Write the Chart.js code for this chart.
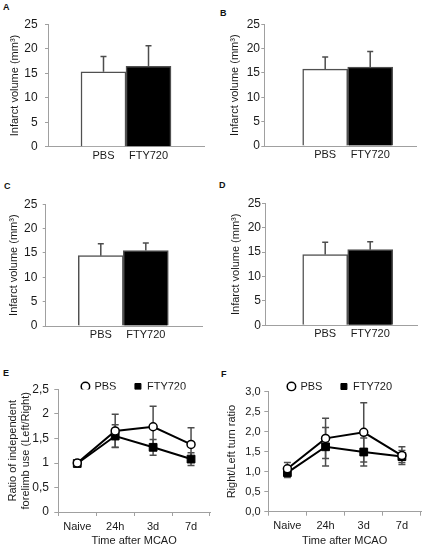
<!DOCTYPE html>
<html>
<head>
<meta charset="utf-8">
<title>Infarct volume and behaviour</title>
<script src="https://cdn.jsdelivr.net/npm/chart.js@4.4.1/dist/chart.umd.min.js"></script>
<style>
  html, body { margin: 0; padding: 0; background: #fff; }
  body { position: relative; width: 430px; height: 548px; overflow: hidden; font-family: "Liberation Sans", Arial, sans-serif; }
  canvas { position: absolute; }
  .tag { position: absolute; font-weight: bold; font-size: 9px; color: #111; }
</style>
</head>
<body>
<div class="tag" style="left:3px;top:2px">A</div>
<div class="tag" style="left:220px;top:8px">B</div>
<div class="tag" style="left:4px;top:181px">C</div>
<div class="tag" style="left:219px;top:180px">D</div>
<div class="tag" style="left:3px;top:368px">E</div>
<div class="tag" style="left:221px;top:369px">F</div>

<canvas id="chartA" width="215" height="175" style="left:0;top:0"></canvas>
<canvas id="chartB" width="215" height="175" style="left:215px;top:0"></canvas>
<canvas id="chartC" width="215" height="175" style="left:0;top:178px"></canvas>
<canvas id="chartD" width="215" height="175" style="left:215px;top:178px"></canvas>
<canvas id="chartE" width="268" height="190" style="left:0;top:358px"></canvas>
<canvas id="chartF" width="250" height="190" style="left:215px;top:358px"></canvas>

<script>
// groups on the bar panels
const groups = ['PBS', 'FTY720'];
const barFills = ['#ffffff', '#000000'];

// infarct volume (mm3), mean and upper error
const volumeA = [15.3, 16.4];
const errorA = [3.1, 4.2];
const volumeB = [15.8, 16.2];
const errorB = [2.5, 3.2];
const volumeC = [14.45, 15.5];
const errorC = [2.45, 1.55];
const volumeD = [14.5, 15.5];
const errorD = [2.5, 1.6];

// behaviour after MCAO
const timepoints = ['Naive', '24h', '3d', '7d'];
const forelimbPBS = [1.0, 1.655, 1.74, 1.38];
const forelimbPBSErr = [0.04, 0.34, 0.42, 0.34];
const forelimbFTY = [0.99, 1.55, 1.32, 1.08];
const forelimbFTYErr = [0.04, 0.23, 0.16, 0.13];
const turnPBS = [1.07, 1.83, 1.98, 1.40];
const turnPBSErr = [0.16, 0.5, 0.74, 0.22];
const turnFTY = [0.975, 1.62, 1.49, 1.375];
const turnFTYErr = [0.12, 0.48, 0.35, 0.15];

const axisGrey = '#a0a0a0';
const errorGrey = '#4d4d4d';

Chart.defaults.font.family = '"Liberation Sans", Arial, sans-serif';
Chart.defaults.font.size = 11;
Chart.defaults.color = '#1a1a1a';
Chart.defaults.animation = false;

// error bars, drawn from each dataset's "errors" list
const errorBarPlugin = {
    id: 'errorBars',
    beforeDatasetsDraw(chart, args, opts) {
        if (opts.behind) drawErrorBars(chart, opts);
    },
    afterDatasetsDraw(chart, args, opts) {
        if (!opts.behind) drawErrorBars(chart, opts);
    }
};

function drawErrorBars(chart, opts) {
    const ctx = chart.ctx;
    const yScale = chart.scales.y;
    const cap = opts.cap || 3;
    ctx.save();
    ctx.strokeStyle = errorGrey;
    ctx.lineWidth = 1.5;
    chart.data.datasets.forEach((dataset, i) => {
        if (!dataset.errors) return;
        const meta = chart.getDatasetMeta(i);
        meta.data.forEach((el, j) => {
            const value = meta.controller.getParsed(j).y;
            const err = dataset.errors[j];
            const top = yScale.getPixelForValue(value + err);
            const bottom = yScale.getPixelForValue(opts.plusOnly ? value : value - err);
            ctx.beginPath();
            ctx.moveTo(el.x, top);
            ctx.lineTo(el.x, bottom);
            ctx.moveTo(el.x - cap, top);
            ctx.lineTo(el.x + cap, top);
            if (!opts.plusOnly) {
                ctx.moveTo(el.x - cap, bottom);
                ctx.lineTo(el.x + cap, bottom);
            }
            ctx.stroke();
        });
    });
    ctx.restore();
}

function makeVolumeChart(id, values, errors, p) {
    const ctx = document.getElementById(id).getContext('2d');
    return new Chart(ctx, {
        type: 'bar',
        data: {
            datasets: [{
                label: 'Infarct volume',
                data: groups.map((g, i) => ({ x: i + 1, y: values[i] })),
                errors: errors,
                backgroundColor: barFills,
                borderColor: '#505050',
                borderWidth: 1.5,
                categoryPercentage: 1,
                barPercentage: 1
            }]
        },
        options: {
            responsive: false,
            layout: { padding: { top: p.top, right: p.right, left: 0, bottom: 0 } },
            plugins: {
                legend: { display: false },
                tooltip: { enabled: false },
                errorBars: { plusOnly: true, cap: 3 }
            },
            scales: {
                x: {
                    type: 'linear',
                    offset: false,
                    min: p.xMin,
                    max: p.xMax,
                    afterBuildTicks: (scale) => { scale.ticks = groups.map((g, i) => ({ value: i + 1 })); },
                    afterFit: (scale) => { scale.height = p.xHeight; },
                    ticks: { callback: (v) => groups[v - 1], padding: 2.5, maxRotation: 0, autoSkip: false },
                    grid: { display: false, drawTicks: false },
                    border: { color: axisGrey }
                },
                y: {
                    min: 0,
                    max: 25,
                    afterFit: (scale) => { scale.width = p.yWidth; },
                    ticks: { stepSize: 5, padding: p.tickPad, font: { size: 12 } },
                    grid: { drawOnChartArea: false, tickLength: 3, color: axisGrey },
                    border: { color: axisGrey },
                    title: { display: true, text: 'Infarct volume (mm³)', padding: { top: p.titlePad, bottom: 0 } }
                }
            }
        },
        plugins: [errorBarPlugin]
    });
}

function makeTimeChart(id, pbs, pbsErr, fty, ftyErr, p) {
    const ctx = document.getElementById(id).getContext('2d');
    return new Chart(ctx, {
        type: 'line',
        data: {
            labels: timepoints,
            datasets: [{
                label: 'PBS',
                data: pbs,
                errors: pbsErr,
                borderColor: '#000',
                borderWidth: 2,
                pointStyle: 'circle',
                pointRadius: 4,
                pointBorderWidth: 1.5,
                pointBackgroundColor: '#fff',
                pointBorderColor: '#000',
                tension: 0
            }, {
                label: 'FTY720',
                data: fty,
                errors: ftyErr,
                borderColor: '#000',
                borderWidth: 2,
                pointStyle: 'rect',
                pointRadius: 5.5,
                pointBorderWidth: 1,
                pointBackgroundColor: '#000',
                pointBorderColor: '#000',
                tension: 0
            }]
        },
        options: {
            responsive: false,
            layout: { padding: { top: p.top, right: 0, left: 0, bottom: 0 } },
            plugins: {
                legend: {
                    position: 'top',
                    maxHeight: p.legendHeight,
                    labels: { usePointStyle: true, boxWidth: 7, boxHeight: 6, padding: 18 }
                },
                tooltip: { enabled: false },
                errorBars: { behind: true, cap: 3.5 }
            },
            scales: {
                x: {
                    offset: true,
                    afterFit: (scale) => { scale.height = p.xHeight; },
                    ticks: { padding: 4, maxRotation: 0, autoSkip: false },
                    grid: { offset: true, drawOnChartArea: false, tickLength: 4, color: axisGrey },
                    border: { color: axisGrey },
                    title: { display: true, text: 'Time after MCAO', padding: { top: 0, bottom: 0 } }
                },
                y: {
                    min: 0,
                    max: p.yMax,
                    afterFit: (scale) => { scale.width = p.yWidth; },
                    ticks: { stepSize: 0.5, padding: p.tickPad, callback: p.tickFormat, font: { size: p.tickSize } },
                    grid: { drawOnChartArea: false, tickLength: 4, color: axisGrey },
                    border: { color: axisGrey },
                    title: { display: true, text: p.title, padding: { top: p.titlePad, bottom: 0 } }
                },
                // empty right-hand gap so the legend centres over the plot
                gap: {
                    position: 'right',
                    afterFit: (scale) => { scale.width = p.rightGap; },
                    ticks: { display: false },
                    grid: { display: false, drawTicks: false },
                    border: { display: false }
                }
            }
        },
        plugins: [errorBarPlugin]
    });
}

document.addEventListener('DOMContentLoaded', () => {
    makeVolumeChart('chartA', volumeA, errorA,
        { top: 24.3, right: 11, xHeight: 28.3, yWidth: 48, xMin: -0.233, xMax: 3.233, tickPad: 7.4, titlePad: 8.4 });
    makeVolumeChart('chartB', volumeB, errorB,
        { top: 24.3, right: 13.3, xHeight: 29, yWidth: 49.3, xMin: -0.353, xMax: 3.033, tickPad: 1.3, titlePad: 13.4 });
    makeVolumeChart('chartC', volumeC, errorC,
        { top: 26.3, right: 12.3, xHeight: 27, yWidth: 45.7, xMin: -0.224, xMax: 3.264, tickPad: 5.3, titlePad: 7.4 });
    makeVolumeChart('chartD', volumeD, errorD,
        { top: 25.3, right: 12.3, xHeight: 27.7, yWidth: 50, xMin: -0.338, xMax: 3.056, tickPad: 1, titlePad: 14.1 });

    makeTimeChart('chartE', forelimbPBS, forelimbPBSErr, forelimbFTY, forelimbFTYErr, {
        top: 5, legendHeight: 26.5, rightGap: 58, xHeight: 36, yWidth: 58.3, yMax: 2.5,
        tickPad: 5.3, tickSize: 12, titlePad: 6.4,
        title: ['Ratio of independent', 'forelimb use (Left/Right)'],
        tickFormat: (v) => String(v).replace('.', ',')
    });
    makeTimeChart('chartF', turnPBS, turnPBSErr, turnFTY, turnFTYErr, {
        top: 5, legendHeight: 28.5, rightGap: 44, xHeight: 36.3, yWidth: 53.3, yMax: 3,
        tickPad: 3.7, tickSize: 11, titlePad: 10.1,
        title: 'Right/Left turn ratio',
        tickFormat: (v) => v.toFixed(1).replace('.', ',')
    });
});
</script>
</body>
</html>
